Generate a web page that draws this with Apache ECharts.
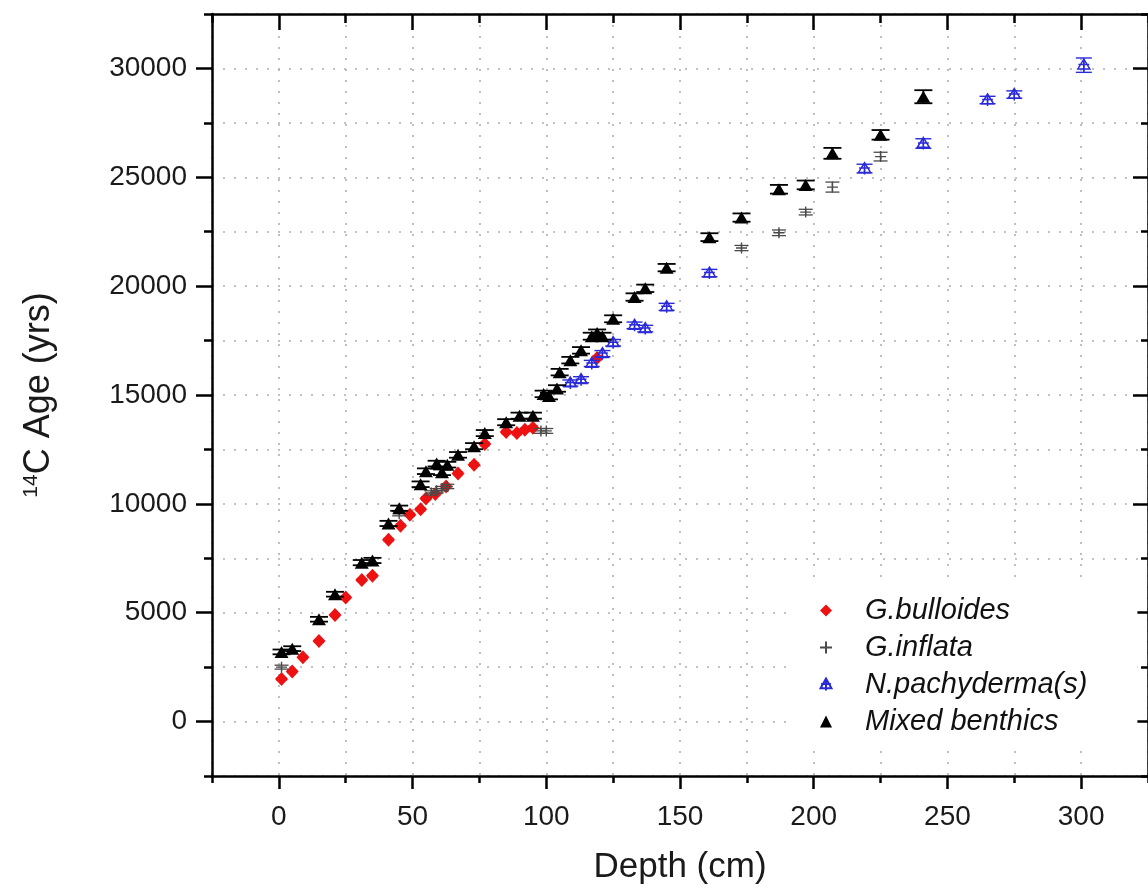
<!DOCTYPE html>
<html>
<head>
<meta charset="utf-8">
<script src="https://cdn.jsdelivr.net/npm/echarts@6/dist/echarts.min.js"></script>
<style>
html,body{margin:0;padding:0;background:#fff;}
#chart{width:1148px;height:892px;}
</style>
</head>
<body>
<div id="chart"></div>
<script>
// ---- data ----
const seriesNames = ['G.bulloides', 'G.inflata', 'N.pachyderma(s)', 'Mixed benthics'];

const bullDepth = [1, 5, 9, 15, 21, 25, 31, 35, 41, 45.5, 49, 53, 55, 58.5, 62.5, 67, 73, 77, 85, 89, 92, 95, 119];
const bullAge   = [1950, 2300, 2950, 3700, 4900, 5700, 6500, 6700, 8350, 9000, 9500, 9750, 10250, 10450, 10800, 11400, 11800, 12750, 13300, 13250, 13400, 13500, 16700];
const bullErr   = [60, 60, 60, 60, 60, 60, 70, 70, 70, 70, 70, 70, 70, 70, 70, 70, 80, 80, 80, 80, 80, 80, 90];

const inflDepth = [1, 45, 57, 59, 61, 63, 98, 100, 173, 187, 197, 207, 225];
const inflAge   = [2500, 9550, 10500, 10600, 10700, 10800, 13350, 13350, 21750, 22450, 23400, 24550, 25950];
const inflErr   = [90, 100, 100, 100, 100, 100, 110, 110, 120, 130, 130, 230, 200];

const pachDepth = [109, 113, 117, 121, 125, 133, 137, 145, 161, 219, 241, 265, 275, 301];
const pachAge   = [15550, 15700, 16450, 16900, 17400, 18200, 18050, 19050, 20600, 25400, 26550, 28550, 28800, 30150];
const pachErr   = [140, 140, 140, 140, 150, 150, 150, 160, 170, 200, 220, 170, 170, 330];

const benDepth = [1, 5, 15, 21, 31, 35, 41, 45, 53, 55, 59, 61, 63, 67, 73, 77, 85, 90, 95, 99, 101, 104, 105, 109, 113, 117, 119, 121, 125, 133, 137, 145, 161, 173, 187, 197, 207, 225, 241];
const benAge   = [3200, 3350, 4700, 5850, 7300, 7400, 9100, 9800, 10900, 11500, 11850, 11450, 11800, 12250, 12650, 13250, 13750, 14050, 14050, 15050, 14950, 15300, 16050, 16600, 17050, 17700, 17850, 17700, 18500, 19500, 19900, 20850, 22250, 23150, 24450, 24650, 26100, 26950, 28700];
const benErr   = [110, 110, 110, 110, 120, 120, 120, 120, 130, 130, 130, 130, 130, 130, 140, 140, 140, 140, 140, 150, 150, 150, 150, 150, 150, 160, 160, 160, 160, 170, 170, 170, 180, 190, 200, 200, 250, 220, 300];

const xMajorTicks = [0, 50, 100, 150, 200, 250, 300];
const yMajorTicks = [0, 5000, 10000, 15000, 20000, 25000, 30000];

// ---- helpers ----
const FONT = '"Liberation Sans", Arial, sans-serif';
function zip(d, a, e) { return d.map((v, i) => [v, a[i], e[i]]); }
const plain = v => String(v);

function errSeries(name, data, color, capHalf, lw, z) {
  return {
    type: 'custom',
    name: name + ' err',
    data: data,
    z: z,
    silent: true,
    encode: { x: 0, y: 1 },
    renderItem: function (params, api) {
      const x = api.value(0), y = api.value(1), e = api.value(2);
      const t = api.coord([x, y + e]);
      const b = api.coord([x, y - e]);
      const st = { stroke: color, lineWidth: lw };
      return {
        type: 'group',
        children: [
          { type: 'line', shape: { x1: t[0], y1: t[1], x2: b[0], y2: b[1] }, style: st },
          { type: 'line', shape: { x1: t[0] - capHalf, y1: t[1], x2: t[0] + capHalf, y2: t[1] }, style: st },
          { type: 'line', shape: { x1: b[0] - capHalf, y1: b[1], x2: b[0] + capHalf, y2: b[1] }, style: st }
        ]
      };
    }
  };
}

const axisCol = '#000';
const gridLine = { show: true, lineStyle: { color: '#b0b0b0', width: 1.6, type: [2, 9] } };
const xMin = -25, xMax = 325, yMin = -2500, yMax = 32500;
const lineOn = { show: true, onZero: false, lineStyle: { color: axisCol, width: 2.5 } };
const lineOff = { show: false, onZero: false };

const option = {
  animation: false,
  backgroundColor: '#fff',
  grid: { left: 212, top: 14, width: 944, height: 762, containLabel: false },
  legend: {
    data: seriesNames,
    orient: 'vertical',
    left: 790,
    top: 586,
    padding: [10, 50, 14, 29],
    backgroundColor: '#fff',
    itemWidth: 12,
    itemHeight: 12,
    itemGap: 8,
    textStyle: { fontFamily: FONT, fontSize: 29, fontStyle: 'italic', color: '#111', padding: [0, 0, 0, 28] }
  },
  xAxis: [
    {
      type: 'value', position: 'bottom', min: xMin, max: xMax, interval: 25,
      axisLine: lineOn,
      axisTick: { show: true, inside: false, length: 7, lineStyle: { color: axisCol, width: 2.5 } },
      axisLabel: { show: false },
      splitLine: gridLine
    },
    {
      type: 'value', position: 'bottom', min: xMin, max: xMax,
      axisLine: lineOff,
      axisTick: { show: true, inside: false, length: 13, customValues: xMajorTicks, lineStyle: { color: axisCol, width: 2.5 } },
      axisLabel: { show: true, customValues: xMajorTicks, formatter: plain, fontFamily: FONT, fontSize: 28, color: '#1a1a1a', margin: 27 },
      splitLine: { show: false },
      name: 'Depth (cm)', nameLocation: 'middle', nameGap: 74,
      nameTextStyle: { fontFamily: FONT, fontSize: 35, color: '#1a1a1a' }
    },
    {
      type: 'value', position: 'top', min: xMin, max: xMax, interval: 25,
      axisLine: lineOn,
      axisTick: { show: true, inside: true, length: 9, lineStyle: { color: axisCol, width: 2.5 } },
      axisLabel: { show: false },
      splitLine: { show: false }
    },
    {
      type: 'value', position: 'top', min: xMin, max: xMax,
      axisLine: lineOff,
      axisTick: { show: true, inside: true, length: 16, customValues: xMajorTicks, lineStyle: { color: axisCol, width: 2.5 } },
      axisLabel: { show: false },
      splitLine: { show: false }
    }
  ],
  yAxis: [
    {
      type: 'value', position: 'left', min: yMin, max: yMax, interval: 2500,
      axisLine: lineOn,
      axisTick: { show: true, inside: false, length: 8, lineStyle: { color: axisCol, width: 2.5 } },
      axisLabel: { show: false },
      splitLine: gridLine
    },
    {
      type: 'value', position: 'left', min: yMin, max: yMax,
      axisLine: lineOff,
      axisTick: { show: true, inside: false, length: 16, customValues: yMajorTicks, lineStyle: { color: axisCol, width: 2.5 } },
      axisLabel: { show: true, customValues: yMajorTicks, formatter: plain, fontFamily: FONT, fontSize: 28, color: '#1a1a1a', margin: 25 },
      splitLine: { show: false },
      name: '{sup|14}C Age (yrs)', nameLocation: 'middle', nameGap: 155, nameRotate: 90,
      nameTextStyle: {
        fontFamily: FONT, fontSize: 36, color: '#1a1a1a',
        rich: { sup: { fontFamily: FONT, fontSize: 21, color: '#1a1a1a', verticalAlign: 'top', padding: [0, 0, 14, 0] } }
      }
    },
    {
      type: 'value', position: 'right', min: yMin, max: yMax, interval: 2500,
      axisLine: lineOn,
      axisTick: { show: true, inside: true, length: 7, lineStyle: { color: axisCol, width: 2.5 } },
      axisLabel: { show: false },
      splitLine: { show: false }
    },
    {
      type: 'value', position: 'right', min: yMin, max: yMax,
      axisLine: lineOff,
      axisTick: { show: true, inside: true, length: 15, customValues: yMajorTicks, lineStyle: { color: axisCol, width: 2.5 } },
      axisLabel: { show: false },
      splitLine: { show: false }
    }
  ],
  series: [
    errSeries('G.bulloides', zip(bullDepth, bullAge, bullErr), '#e01010', 5, 1.2, 2),
    {
      type: 'scatter', name: 'G.bulloides', z: 3,
      data: zip(bullDepth, bullAge, bullErr).map(p => [p[0], p[1]]),
      symbol: 'diamond', symbolSize: [13, 14],
      itemStyle: { color: '#ee1111', opacity: 1 }
    },
    errSeries('G.inflata', zip(inflDepth, inflAge, inflErr), '#4a4a4a', 7, 1.3, 4),
    {
      type: 'scatter', name: 'G.inflata', z: 5,
      data: zip(inflDepth, inflAge, inflErr).map(p => [p[0], p[1]]),
      symbol: 'path://M5,0 L5,10 M0,5 L10,5', symbolSize: [11, 11],
      itemStyle: { color: 'rgba(0,0,0,0)', borderColor: '#4a4a4a', borderWidth: 1.4, opacity: 1 }
    },
    errSeries('N.pachyderma(s)', zip(pachDepth, pachAge, pachErr), '#2a2ad8', 8, 1.4, 6),
    {
      type: 'scatter', name: 'N.pachyderma(s)', z: 7,
      data: zip(pachDepth, pachAge, pachErr).map(p => [p[0], p[1]]),
      symbol: 'path://M5,0 L10,9 L0,9 Z M5,0 L5,11 M0.5,5 L9.5,5', symbolSize: [12, 12],
      itemStyle: { color: 'rgba(0,0,0,0)', borderColor: '#2a2ad8', borderWidth: 1.5, opacity: 1 }
    },
    errSeries('Mixed benthics', zip(benDepth, benAge, benErr), '#000', 9, 1.8, 8),
    {
      type: 'scatter', name: 'Mixed benthics', z: 9,
      data: zip(benDepth, benAge, benErr).map(p => [p[0], p[1]]),
      symbol: 'triangle', symbolSize: [14, 12],
      itemStyle: { color: '#000', opacity: 1 }
    }
  ]
};

const chart = echarts.init(document.getElementById('chart'), null, { renderer: 'canvas' });
chart.setOption(option);
</script>
</body>
</html>
